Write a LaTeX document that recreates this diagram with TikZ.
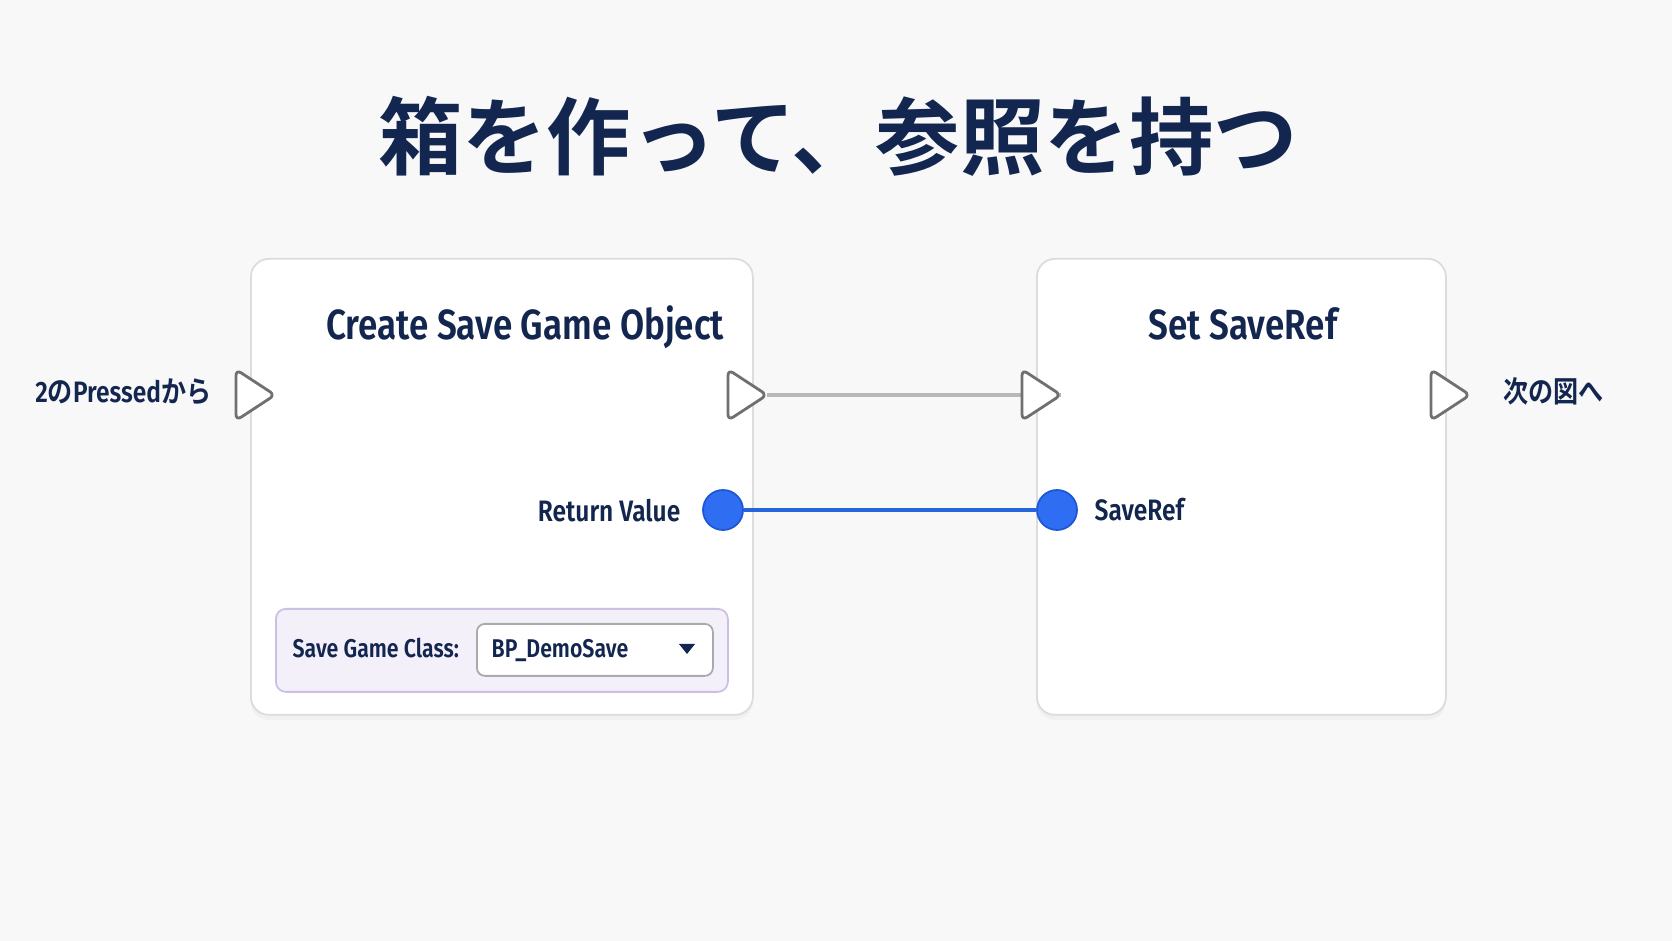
\documentclass[tikz,border=0pt]{standalone}
\usepackage{fontspec}
\setmainfont{Fira Sans}[FakeStretch=0.83,BoldFont={Fira Sans SemiBold}]
\newfontfamily\cjk{Noto Sans CJK JP}[BoldFont={Noto Sans CJK JP Bold}]
\newfontfamily\cjknarrow{Noto Sans CJK JP}[FakeStretch=0.85,BoldFont={Noto Sans CJK JP Bold}]
\usetikzlibrary{shadows}

\definecolor{inkblue}{HTML}{13264F}
\definecolor{pageback}{HTML}{F8F8F9}
\definecolor{boxedge}{HTML}{DCDCDF}
\definecolor{pinedge}{HTML}{707070}
\definecolor{wiregray}{HTML}{B8B8B8}
\definecolor{pinblue}{HTML}{2F6DF2}
\definecolor{pinblueedge}{HTML}{1E57D6}
\definecolor{wireblue}{HTML}{2465DA}
\definecolor{panelfill}{HTML}{F4F0FA}
\definecolor{paneledge}{HTML}{CDBFE2}
\definecolor{dropedge}{HTML}{A9A9AE}

\tikzset{
  headline/.style={font=\cjk\bfseries\fontsize{24}{28}\selectfont, text=inkblue},
  nodebox/.style={anchor=north west, draw=boxedge, line width=0.5pt, fill=white, rounded corners=1.8mm,
    drop shadow={opacity=0.06, shadow xshift=0mm, shadow yshift=-0.5mm}},
  nodetitle/.style={font=\bfseries\fontsize{12}{14}\selectfont, text=inkblue, inner sep=0pt},
  pinlabel/.style={font=\bfseries\fontsize{8.4}{10}\selectfont, text=inkblue, inner sep=0pt},
  smalltext/.style={font=\bfseries\fontsize{7.3}{9}\selectfont, text=inkblue, inner sep=0pt},
  execpin/.style={draw=pinedge, line width=0.8pt, fill=white, rounded corners=0.6mm, line join=round},
  execwire/.style={draw=wiregray, line width=1pt},
  datapin/.style={circle, draw=pinblueedge, line width=0.5pt, fill=pinblue, minimum size=4mm, inner sep=0pt},
  datawire/.style={draw=wireblue, line width=1.1pt},
  classpanel/.style={anchor=north west, draw=paneledge, line width=0.5pt, fill=panelfill, rounded corners=1mm},
  dropbox/.style={anchor=north west, draw=dropedge, line width=0.5pt, fill=white, rounded corners=0.8mm}
}

\begin{document}
\begin{tikzpicture}[x=0.1mm,y=-0.1mm]

  \fill[pageback] (0,0) rectangle (1672,941);
  \node[headline] (headline) at (838,136) {箱を作って、参照を持つ};

  \node[nodebox, minimum width=50.2mm, minimum height=45.6mm] (create) at (250,258) {};
  \node[nodebox, minimum width=40.9mm, minimum height=45.6mm] (setref) at (1036,258) {};

  \node[nodetitle, anchor=base east] (createtitle) at (725,340) {Create Save Game Object};
  \node[nodetitle, anchor=base] (settitle) at (1243,340) {Set SaveRef};

  \coordinate (execin) at (275,395);
  \coordinate (createout) at (767,395);
  \coordinate (setin) at (1061,395);
  \coordinate (setout) at (1470,395);

  \draw[execwire] (createout) -- (setin);
  \foreach \p in {execin,createout,setin,setout}
    \draw[execpin] (\p) -- ++(-39,-25.5) -- ++(0,51) -- cycle;

  \node[datapin] (retval) at (723,510) {};
  \node[datapin] (saveref) at (1057,510) {};
  \draw[datawire] (retval) -- (saveref);

  \node[pinlabel, anchor=base east] (retlabel) at (681,522) {Return Value};
  \node[pinlabel, anchor=base west] (reflabel) at (1094,521) {SaveRef};
  \node[pinlabel, anchor=base east] (fromlabel) at (212,403) {2{\cjknarrow\bfseries の}Pressed{\cjknarrow\bfseries から}};
  \node[pinlabel, anchor=base west] (nextlabel) at (1503,403) {\cjknarrow\bfseries 次の図へ};

  \node[classpanel, minimum width=45.2mm, minimum height=8.3mm] (panel) at (275,608) {};
  \node[smalltext, anchor=base west] (classlabel) at (292,658) {Save Game Class:};
  \node[dropbox, minimum width=23.6mm, minimum height=5.2mm] (dropdown) at (476,623) {};
  \node[smalltext, anchor=base west] (classvalue) at (491,658) {BP\_DemoSave};
  \coordinate (droparrow) at (687,649);
  \fill[inkblue] (droparrow) ++(-8,-5) -- ++(16,0) -- ++(-8,10) -- cycle;

\end{tikzpicture}
\end{document}
